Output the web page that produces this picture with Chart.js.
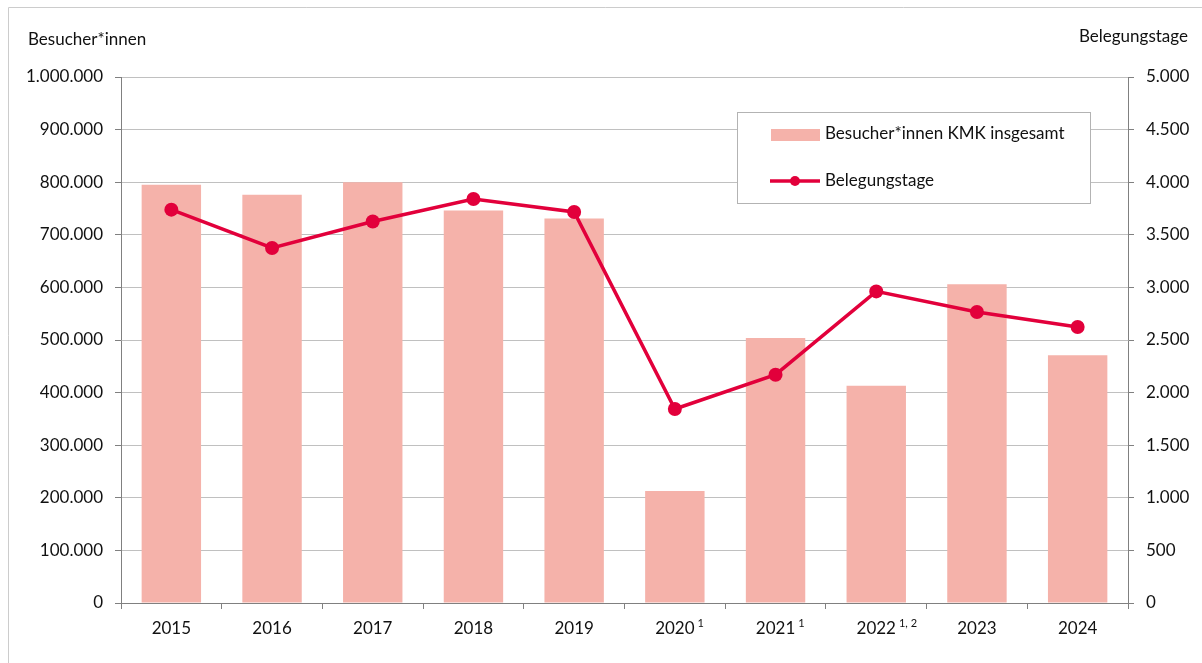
<!DOCTYPE html>
<html lang="de">
<head>
<meta charset="utf-8">
<script src="https://cdn.jsdelivr.net/npm/chart.js@4/dist/chart.umd.min.js"></script>
<style>
  html, body { margin: 0; padding: 0; background: #fff; }
  #wrap { width: 1202px; height: 663px; }
</style>
</head>
<body>
<div id="wrap"><canvas id="myChart" width="1202" height="663"></canvas></div>
<script>
// data
var years = ['2015', '2016', '2017', '2018', '2019', '2020', '2021', '2022', '2023', '2024'];
var footnotes = ['', '', '', '', '', '1', '1', '1, 2', '', ''];
var visitors = [795000, 776000, 800000, 746000, 731000, 213000, 504000, 413000, 606000, 471000];
var days = [3739, 3375, 3627, 3840, 3717, 1844, 2170, 2962, 2766, 2624];

var leftTitle = 'Besucher*innen';
var rightTitle = 'Belegungstage';

var barColor = '#f5b2aa';
var lineColor = '#e2003b';
var fontFam = 'Lato, "Open Sans", sans-serif';

function deNum(v) {
  return String(Math.round(v)).replace(/\B(?=(\d{3})+(?!\d))/g, '.');
}

var extras = {
  id: 'extras',
  beforeDraw: function (chart) {
    var c = chart.ctx;
    c.save();
    // outer frame (top + left)
    c.strokeStyle = '#cccccc';
    c.lineWidth = 1;
    c.beginPath();
    c.moveTo(8.5, 663);
    c.lineTo(8.5, 7.5);
    c.lineTo(1202, 7.5);
    c.stroke();
    c.restore();
  },
  afterDraw: function (chart) {
    var c = chart.ctx;
    c.save();
    c.fillStyle = '#111111';
    c.font = '17px ' + fontFam;
    c.textBaseline = 'middle';
    c.textAlign = 'left';
    c.fillText(leftTitle, 28, 40);
    c.textAlign = 'right';
    c.fillText(rightTitle, 1188, 37);

    // x labels with footnote marks
    var xs = chart.scales.x;
    for (var i = 0; i < years.length; i++) {
      var px = xs.getPixelForValue(i);
      c.font = '17px ' + fontFam;
      c.textAlign = 'center';
      c.textBaseline = 'middle';
      c.fillText(years[i], px, 629);
      if (footnotes[i]) {
        var w = c.measureText(years[i]).width;
        c.font = '11px ' + fontFam;
        c.textAlign = 'left';
        c.fillText(footnotes[i], px + w / 2 + 3, 623);
      }
    }

    // legend box
    var ds = chart.data.datasets;
    c.fillStyle = '#ffffff';
    c.fillRect(738, 112, 353, 91);
    c.strokeStyle = '#b3b3b3';
    c.lineWidth = 1;
    c.strokeRect(737.5, 112.5, 353, 91);

    c.fillStyle = barColor;
    c.fillRect(771, 129, 49, 12);
    c.strokeStyle = lineColor;
    c.lineWidth = 3.5;
    c.beginPath();
    c.moveTo(770, 181);
    c.lineTo(820, 181);
    c.stroke();
    c.fillStyle = lineColor;
    c.beginPath();
    c.arc(795, 181, 5, 0, Math.PI * 2);
    c.fill();

    c.fillStyle = '#111111';
    c.font = '17px ' + fontFam;
    c.textAlign = 'left';
    c.textBaseline = 'middle';
    c.fillText(ds[1].label, 825, 134);
    c.fillText(ds[0].label, 825, 181);
    c.restore();
  }
};

var ctx = document.getElementById('myChart').getContext('2d');
new Chart(ctx, {
  type: 'bar',
  data: {
    labels: years,
    datasets: [{
      type: 'line',
      label: 'Belegungstage',
      data: days,
      yAxisID: 'y1',
      borderColor: lineColor,
      backgroundColor: lineColor,
      borderWidth: 3.5,
      pointRadius: 7,
      pointBorderWidth: 0,
      pointBackgroundColor: lineColor,
      tension: 0,
      order: 0
    }, {
      type: 'bar',
      label: 'Besucher*innen KMK insgesamt',
      data: visitors,
      yAxisID: 'y',
      backgroundColor: barColor,
      borderWidth: 0,
      barPercentage: 0.59,
      categoryPercentage: 1,
      order: 1
    }]
  },
  options: {
    responsive: false,
    animation: false,
    layout: { padding: { top: 77, left: 0, right: 0, bottom: 0 } },
    plugins: {
      legend: { display: false },
      tooltip: { enabled: false }
    },
    scales: {
      x: {
        offset: true,
        grid: {
          offset: true,
          drawOnChartArea: false,
          tickLength: 6,
          tickColor: '#808080'
        },
        border: { color: '#808080', width: 1 },
        ticks: { color: 'rgba(0,0,0,0)', font: { size: 17, family: fontFam } },
        afterFit: function (s) { s.height = 60; }
      },
      y: {
        position: 'left',
        min: 0,
        max: 1000000,
        ticks: {
          stepSize: 100000,
          padding: 12,
          color: '#111111',
          font: { size: 17, family: fontFam },
          callback: function (v) { return deNum(v); }
        },
        grid: {
          color: '#c0c0c0',
          tickColor: '#808080',
          tickLength: 6
        },
        border: { color: '#808080', width: 1 },
        afterFit: function (s) { s.width = 121; }
      },
      y1: {
        position: 'right',
        min: 0,
        max: 5000,
        ticks: {
          stepSize: 500,
          padding: 12,
          color: '#111111',
          font: { size: 17, family: fontFam },
          callback: function (v) { return deNum(v); }
        },
        grid: {
          drawOnChartArea: false,
          tickColor: '#808080',
          tickLength: 6
        },
        border: { color: '#808080', width: 1 },
        afterFit: function (s) { s.width = 74; }
      }
    }
  },
  plugins: [extras]
});
</script>
</body>
</html>
